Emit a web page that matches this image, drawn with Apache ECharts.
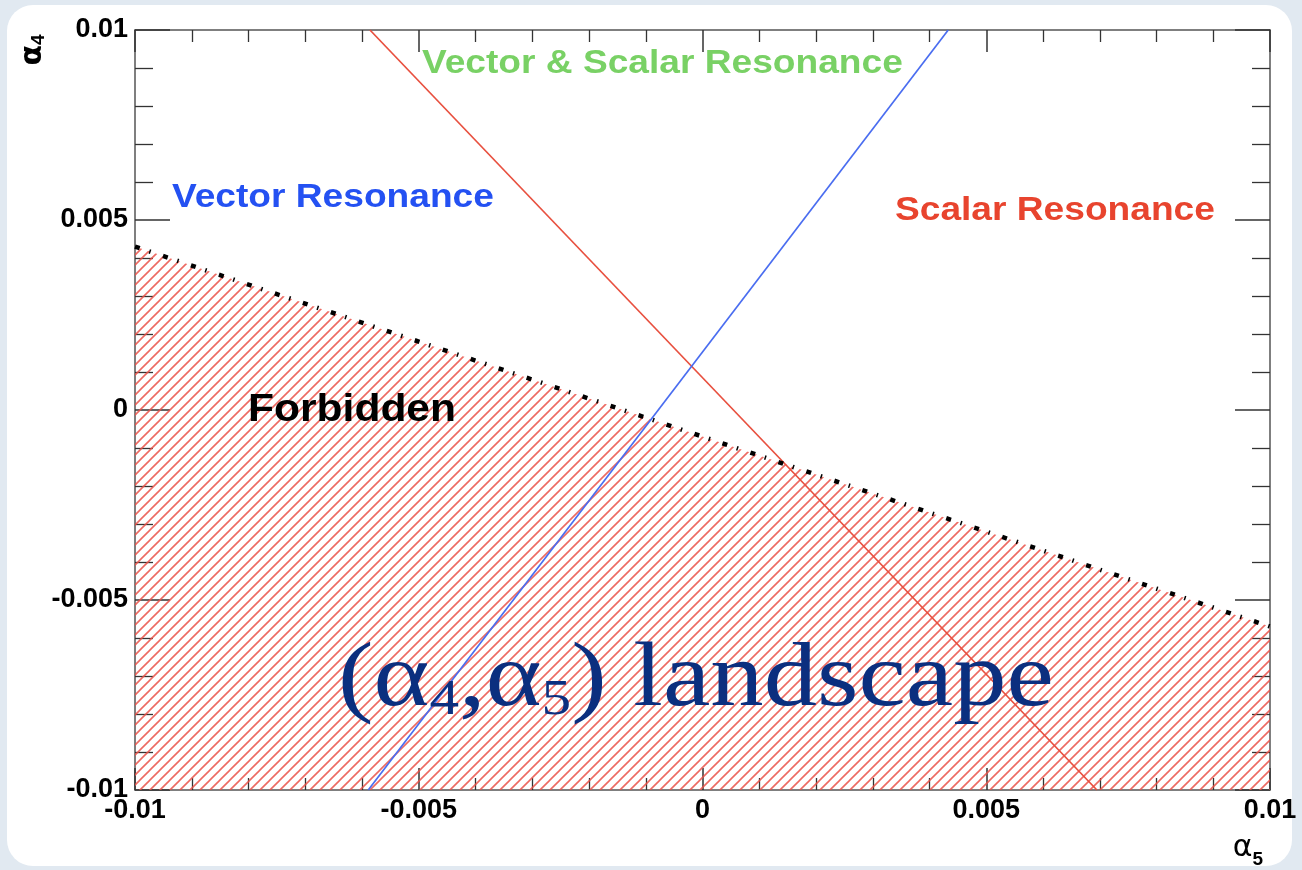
<!DOCTYPE html>
<html>
<head>
<meta charset="utf-8">
<script src="https://cdn.jsdelivr.net/npm/echarts@6/dist/echarts.min.js"></script>
<style>
  html, body { margin: 0; padding: 0; background: #e1e9f1; }
  #chart { width: 1302px; height: 870px; }
</style>
</head>
<body>
<div id="chart"></div>
<script>
// ---- data ----
const xTicks = [-0.01, -0.005, 0, 0.005, 0.01];
const yTicks = [-0.01, -0.005, 0, 0.005, 0.01];
// forbidden-region boundary (alpha5, alpha4)
const boundaryX = [-0.01, -0.005, 0, 0.005, 0.01];
const boundaryY = [0.0043, 0.0018, -0.0007, -0.0032, -0.0057];
// scalar resonance line
const scalarX = [-0.00586, 0.00695];
const scalarY = [0.01, -0.01];
// vector resonance line
const vectorX = [-0.00589, 0.00433];
const vectorY = [-0.01, 0.01];

const zip = (a, b) => a.map((v, i) => [v, b[i]]);

// hatch pattern
const tile = document.createElement('canvas');
tile.width = 10; tile.height = 10;
const g = tile.getContext('2d');
g.strokeStyle = 'rgba(234,80,70,0.85)';
g.lineWidth = 1.6;
g.beginPath();
g.moveTo(-1, 11); g.lineTo(11, -1);
g.moveTo(-1, 1); g.lineTo(1, -1);
g.moveTo(9, 11); g.lineTo(11, 9);
g.stroke();

const labelFont = { fontFamily: 'Liberation Sans', fontWeight: 'bold', fontSize: 27, color: '#000' };
const fmt = v => (Math.abs(v) < 1e-12 ? '0' : String(+v.toFixed(4)));

function xAx(pos, showLabel) {
  return {
    type: 'value', min: -0.01, max: 0.01, interval: 0.005, position: pos,
    axisLine: { show: true, onZero: false, lineStyle: { color: '#555', width: 1.5 } },
    axisTick: { show: true, inside: true, length: 22, lineStyle: { color: '#333', width: 1.5 } },
    minorTick: { show: true, splitNumber: 5, length: 12, lineStyle: { color: '#333', width: 1.3 } },
    splitLine: { show: false },
    axisLabel: Object.assign({ show: showLabel, margin: 7, formatter: fmt, showMinLabel: true, showMaxLabel: true }, labelFont)
  };
}
function yAx(pos, showLabel) {
  return {
    type: 'value', min: -0.01, max: 0.01, interval: 0.005, position: pos,
    axisLine: { show: true, onZero: false, lineStyle: { color: '#555', width: 1.5 } },
    axisTick: { show: true, inside: true, length: 35, lineStyle: { color: '#333', width: 1.5 } },
    minorTick: { show: true, splitNumber: 5, length: 18, lineStyle: { color: '#333', width: 1.3 } },
    splitLine: { show: false },
    axisLabel: Object.assign({ show: showLabel, margin: 7, formatter: fmt, showMinLabel: true, showMaxLabel: true, padding: [4, 0, 0, 0] }, labelFont)
  };
}

const chart = echarts.init(document.getElementById('chart'), null, { renderer: 'canvas' });
const navy = '#0b2f7f';
chart.setOption({
  animation: false,
  backgroundColor: '#e1e9f1',
  grid: { left: 135, right: 32, top: 30, bottom: 80 },
  xAxis: [xAx('bottom', true), xAx('top', false)],
  yAxis: [yAx('left', true), yAx('right', false)],
  series: [
    {
      type: 'line', data: zip(boundaryX, boundaryY), showSymbol: false, z: 1,
      lineStyle: { width: 0 },
      areaStyle: { origin: 'start', color: { image: tile, repeat: 'repeat' }, opacity: 1 }
    },
    {
      type: 'line', data: zip(scalarX, scalarY), showSymbol: false, z: 2,
      lineStyle: { color: '#e8503f', width: 1.7 }
    },
    {
      type: 'line', data: zip(vectorX, vectorY), showSymbol: false, z: 2,
      lineStyle: { color: '#4a6df0', width: 1.7 }
    },
    {
      type: 'line', data: zip(boundaryX, boundaryY), showSymbol: false, z: 3,
      lineStyle: { color: '#000', width: 4.5, type: [5, 10, 1.5, 13] }
    }
  ],
  graphic: [
    { type: 'rect', z: -100, silent: true, shape: { x: 7, y: 5, width: 1285, height: 861, r: 26 }, style: { fill: '#ffffff' } },
    { type: 'text', z: 100, x: 422, y: 64, scaleX: 1.125, style: { text: 'Vector & Scalar Resonance', font: 'bold 33px "Liberation Sans"', fill: '#79d165', textVerticalAlign: 'middle' } },
    { type: 'text', z: 100, x: 172, y: 198, scaleX: 1.125, style: { text: 'Vector Resonance', font: 'bold 33px "Liberation Sans"', fill: '#2451f2', textVerticalAlign: 'middle' } },
    { type: 'text', z: 100, x: 895, y: 211, scaleX: 1.125, style: { text: 'Scalar Resonance', font: 'bold 33px "Liberation Sans"', fill: '#e8442e', textVerticalAlign: 'middle' } },
    { type: 'text', z: 100, x: 248, y: 411, scaleX: 1.12, style: { text: 'Forbidden', font: 'bold 38px "Liberation Sans"', fill: '#000', textVerticalAlign: 'middle' } },
    { type: 'text', z: 100, x: 338, y: 681, scaleX: 1.185, style: {
        text: '{m|(α}{s|4}{m|,α}{s|5}{m|) landscape}', textVerticalAlign: 'middle',
        rich: {
          m: { fontFamily: 'Liberation Serif', fontSize: 90, lineHeight: 90, fill: navy, verticalAlign: 'bottom' },
          s: { fontFamily: 'Liberation Serif', fontSize: 50, lineHeight: 46, fill: navy, verticalAlign: 'bottom' }
        } } },
    { type: 'text', z: 100, x: 33, y: 50, rotation: Math.PI / 2, style: {
        text: '{a|α}{s|4}', textAlign: 'center', textVerticalAlign: 'middle',
        rich: {
          a: { fontFamily: 'DejaVu Sans', fontWeight: 'bold', fontSize: 30, lineHeight: 30, fill: '#000', verticalAlign: 'bottom' },
          s: { fontFamily: 'Liberation Sans', fontWeight: 'bold', fontSize: 19, lineHeight: 17, fill: '#000', verticalAlign: 'bottom' }
        } } },
    { type: 'text', z: 100, x: 1248, y: 848, style: {
        text: '{a|α}{s|5}', textAlign: 'center', textVerticalAlign: 'middle',
        rich: {
          a: { fontFamily: 'DejaVu Sans', fontSize: 30, lineHeight: 30, fill: '#000', verticalAlign: 'bottom' },
          s: { fontFamily: 'Liberation Sans', fontWeight: 'bold', fontSize: 19, lineHeight: 19, fill: '#000', verticalAlign: 'bottom', padding: [0, 0, -6, 0] }
        } } }
  ]
});
</script>
</body>
</html>
